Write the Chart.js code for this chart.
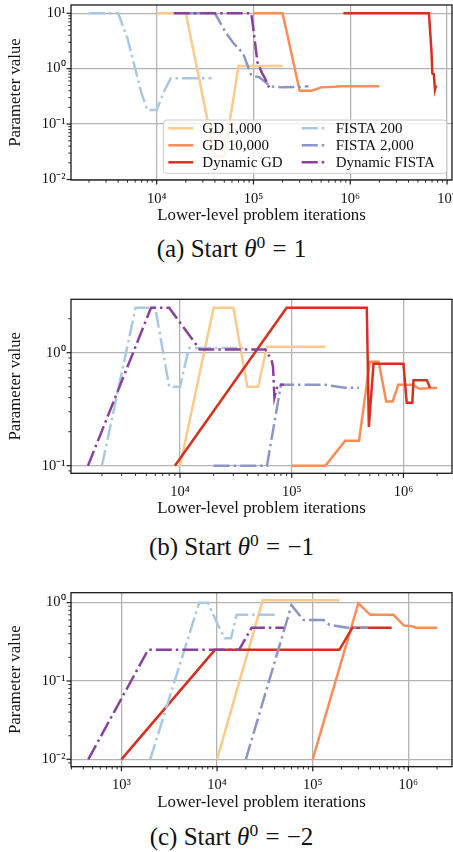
<!DOCTYPE html>
<html>
<head>
<meta charset="utf-8">
<script src="https://cdn.jsdelivr.net/npm/chart.js@4.4.1/dist/chart.umd.min.js"></script>
<style>
  body { margin: 0; background: #fff; width: 453px; height: 852px; position: relative; overflow: hidden; }
  canvas { position: absolute; left: 0; }
  .cap { position: absolute; left: 0; width: 463px; text-align: center; white-space: nowrap;
         font: 25px/25px 'Liberation Serif', serif; color: #111; }
  .cap sup { font-size: 70%; vertical-align: baseline; position: relative; top: -0.5em; }
  .cap .eq { margin: 0 0.04em; }
</style>
</head>
<body>
<canvas id="c1"></canvas>
<div class="cap" style="top:236px">(a) Start <i>θ</i><sup>0</sup> <span class="eq">=</span> 1</div>
<canvas id="c2"></canvas>
<div class="cap" style="top:534px">(b) Start <i>θ</i><sup>0</sup> <span class="eq">=</span> −1</div>
<canvas id="c3"></canvas>
<div class="cap" style="top:824px">(c) Start <i>θ</i><sup>0</sup> <span class="eq">=</span> −2</div>

<script>
// series names / colours, same order in every panel
const LABELS = ['GD 1,000', 'GD 10,000', 'Dynamic GD', 'FISTA 200', 'FISTA 2,000', 'Dynamic FISTA'];
const COLORS = ['#fdca8b', '#fc8d59', '#d7301f', '#a9c9e3', '#8c96c6', '#88419d'];
const DASHDOT = [false, false, false, true, true, true];

// ── (a) start theta = 1 ── [iterations, parameter]
const gd1000A = [[1e4, 10], [2e4, 10], [4e4, 0.026], [5e4, 0.026], [7e4, 1.12], [2e5, 1.12]];
const gd10000A = [[1e5, 10], [2e5, 10], [3e5, 0.4], [4e5, 0.4], [5e5, 0.46], [7e5, 0.47], [8e5, 0.48], [2e6, 0.48]];
const dynGdA = [[8.5e5, 10], [6.5e6, 10], [6.9e6, 2.1], [7.05e6, 0.82], [7.3e6, 0.8], [7.5e6, 0.42], [7.7e6, 0.5]];
const fista200A = [[2000, 10], [4000, 10], [5000, 3.5], [6000, 1.0], [7000, 0.35], [8000, 0.18], [1e4, 0.18], [1.2e4, 0.4], [1.4e4, 0.67], [3.7e4, 0.67]];
const fista2000A = [[2e4, 10], [4e4, 10], [5.2e4, 4.4], [6.2e4, 2.9], [7.8e4, 1.9], [9.5e4, 0.75], [1.15e5, 0.7], [1.5e5, 0.48], [2e5, 0.46], [3.7e5, 0.48]];
const dynFistaA = [[1.5e4, 10], [9.5e4, 10], [1e5, 5], [1.1e5, 1.3], [1.22e5, 0.85], [1.3e5, 0.7], [1.45e5, 0.46]];

// ── (b) start theta = -1 ──
const gd1000B = [[1e4, 0.1], [2e4, 2.5], [3e4, 2.5], [4e4, 0.5], [5e4, 0.5], [6e4, 1.13], [2e5, 1.13]];
const gd10000B = [[1e5, 0.1], [2e5, 0.1], [3e5, 0.166], [4e5, 0.166], [5e5, 0.83], [6e5, 0.83], [7e5, 0.37], [8e5, 0.37], [9e5, 0.52], [1.2e6, 0.52], [1.4e6, 0.48], [2e6, 0.49]];
const dynGdB = [[9000, 0.1], [9e4, 2.5], [4.7e5, 2.5], [4.9e5, 0.22], [5.4e5, 0.8], [1e6, 0.8], [1.07e6, 0.36], [1.2e6, 0.36], [1.23e6, 0.57], [1.62e6, 0.57], [1.73e6, 0.49]];
const fista200B = [[2000, 0.1], [4000, 2.5], [6000, 2.5], [8000, 0.5], [1e4, 0.5], [1.2e4, 1.1], [3.7e4, 1.1]];
const fista2000B = [[2e4, 0.1], [6e4, 0.1], [8e4, 0.52], [1e5, 0.52], [2e5, 0.52], [3e5, 0.49], [4e5, 0.49]];
const dynFistaB = [[1500, 0.1], [5500, 2.5], [8000, 2.5], [1.5e4, 1.07], [5.8e4, 1.07], [6.6e4, 0.86], [6.8e4, 0.75], [7e4, 0.4], [7.5e4, 0.52], [8.5e4, 0.52]];

// ── (c) start theta = -2 ──
const gd1000C = [[1e4, 0.01], [3e4, 1.07], [1.9e5, 1.07]];
const gd10000C = [[1e5, 0.01], [3e5, 0.98], [4e5, 0.7], [7e5, 0.7], [9e5, 0.51], [1.1e6, 0.5], [1.2e6, 0.48], [2e6, 0.48]];
const dynGdC = [[1000, 0.01], [9500, 0.25], [1.9e5, 0.25], [2.6e5, 0.48], [6.7e5, 0.48]];
const fista200C = [[2000, 0.01], [6500, 1.0], [8000, 1.0], [1e4, 0.55], [1.2e4, 0.35], [1.4e4, 0.35], [1.6e4, 0.7], [4e4, 0.7]];
const fista2000C = [[2e4, 0.01], [6e4, 0.93], [8e4, 0.6], [1.3e5, 0.6], [1.5e5, 0.52], [2.3e5, 0.48], [3.8e5, 0.48]];
const dynFistaC = [[450, 0.01], [1900, 0.25], [1.7e4, 0.25], [2.3e4, 0.48], [5e4, 0.48]];

const X_TITLE = 'Lower-level problem iterations';
const Y_TITLE = 'Parameter value';

const FONT = "'Liberation Serif', 'Times New Roman', serif";
const INK = '#111';
const GRID = '#b3b3b3';

Chart.defaults.font.family = FONT;
Chart.defaults.color = INK;

const SUP = { '-': '⁻', '0': '⁰', '1': '¹', '2': '²', '3': '³', '4': '⁴', '5': '⁵', '6': '⁶', '7': '⁷', '8': '⁸', '9': '⁹' };

function isPow10(v) {
  const e = Math.log10(v);
  return Math.abs(e - Math.round(e)) < 1e-6;
}

function decadeLabel(v) {
  if (!isPow10(v)) return '';
  return '10' + [...String(Math.round(Math.log10(v)))].map(c => SUP[c]).join('');
}

// matplotlib-like log ticks: 1..9 x 10^k
function logTicks(min, max) {
  const out = [];
  for (let e = Math.floor(Math.log10(min)); e <= Math.ceil(Math.log10(max)); e++) {
    for (let m = 1; m < 10; m++) {
      const v = Number(m + 'e' + e);
      if (v >= min * 0.9999 && v <= max * 1.0001) out.push({ value: v });
    }
  }
  return out;
}

// ── frame + outward major/minor tick marks ──
const frameTicks = {
  id: 'frameTicks',
  afterDraw(chart) {
    const { ctx, chartArea: a, scales: { x, y } } = chart;
    ctx.save();
    ctx.strokeStyle = '#1a1a1a';
    [x, y].forEach(s => s.ticks.forEach(t => {
      const major = isPow10(t.value);
      const len = major ? 4.5 : 2.7;
      ctx.lineWidth = major ? 1.2 : 0.9;
      const p = s.getPixelForValue(t.value);
      ctx.beginPath();
      if (s === x) { ctx.moveTo(p, a.bottom); ctx.lineTo(p, a.bottom + len); }
      else { ctx.moveTo(a.left, p); ctx.lineTo(a.left - len, p); }
      ctx.stroke();
    }));
    ctx.lineWidth = 1.3;
    ctx.strokeRect(a.left, a.top, a.right - a.left, a.bottom - a.top);
    ctx.restore();
  }
};

// ── 2-column legend in the lower right of the plot (panel a only) ──
const boxLegend = {
  id: 'boxLegend',
  afterDraw(chart, args, opts) {
    if (!opts.show) return;
    const { ctx, chartArea: a } = chart;
    const w = 283.4, h = 53.3;
    const left = a.right - 5.3 - w, top = a.bottom - 6.7 - h;
    ctx.save();
    ctx.beginPath();
    ctx.roundRect(left, top, w, h, 3);
    ctx.fillStyle = 'rgba(255,255,255,0.8)';
    ctx.fill();
    ctx.strokeStyle = '#cccccc';
    ctx.lineWidth = 1;
    ctx.stroke();
    ctx.font = '15px ' + FONT;
    ctx.textBaseline = 'middle';
    ctx.fillStyle = INK;
    chart.data.datasets.forEach((ds, i) => {
      const col = Math.floor(i / 3), row = i % 3;
      const hx = left + (col ? 138.4 : 5);
      const hy = top + 8.3 + row * 17;
      ctx.strokeStyle = ds.borderColor;
      ctx.lineWidth = ds.borderWidth;
      ctx.setLineDash(ds.borderDash || []);
      ctx.beginPath();
      ctx.moveTo(hx, hy);
      ctx.lineTo(hx + 25, hy);
      ctx.stroke();
      ctx.setLineDash([]);
      ctx.fillText(ds.label, hx + 34, hy + 0.5);
    });
    ctx.restore();
  }
};

function makePanel(p) {
  const canvas = document.getElementById(p.id);
  const H = Math.round(p.areaBottom - p.canvasTop + 48);
  canvas.width = 453;
  canvas.height = H;
  canvas.style.top = p.canvasTop + 'px';
  const xHeight = H - (p.areaBottom - p.canvasTop);
  const titlePad = H - 9.6 - (p.titleY - p.canvasTop);

  return new Chart(canvas.getContext('2d'), {
    type: 'line',
    data: {
      datasets: p.series.map((d, i) => ({
        label: LABELS[i],
        data: d,
        borderColor: COLORS[i],
        borderWidth: 2.5,
        borderDash: DASHDOT[i] ? [16, 4, 2.5, 4] : [],
        borderCapStyle: 'butt',
        pointRadius: 0,
        tension: 0,
        fill: false,
        order: LABELS.length - i,
      }))
    },
    options: {
      responsive: false,
      animation: false,
      events: [],
      layout: { padding: { top: p.areaTop - p.canvasTop, left: 0, right: 1, bottom: 0 } },
      plugins: {
        legend: { display: false },
        tooltip: { enabled: false },
        boxLegend: { show: !!p.legend },
      },
      scales: {
        x: {
          type: 'logarithmic',
          min: p.xMin, max: p.xMax,
          afterBuildTicks: s => { s.ticks = logTicks(s.min, s.max); },
          afterFit: s => { s.height = xHeight; s.paddingLeft = 0; s.paddingRight = 0; },
          border: { display: false },
          grid: { drawTicks: false, lineWidth: 1.3, color: c => isPow10(c.tick.value) ? GRID : 'rgba(0,0,0,0)' },
          ticks: { autoSkip: false, maxRotation: 0, padding: 10, color: INK, font: { size: 14.5 }, callback: v => decadeLabel(v) },
          title: { display: true, text: X_TITLE, color: INK, font: { size: 16.8 }, padding: { top: 0, bottom: titlePad } },
        },
        y: {
          type: 'logarithmic',
          min: p.yMin, max: p.yMax,
          afterBuildTicks: s => { s.ticks = logTicks(s.min, s.max); },
          afterFit: s => { s.width = 71; s.paddingTop = 0; s.paddingBottom = 0; },
          border: { display: false },
          grid: { drawTicks: false, lineWidth: 1.3, color: c => isPow10(c.tick.value) ? GRID : 'rgba(0,0,0,0)' },
          ticks: { autoSkip: false, padding: 5.5, color: INK, font: { size: 14.5 }, callback: v => decadeLabel(v) },
          title: { display: true, text: Y_TITLE, color: INK, font: { size: 16.8 }, padding: { top: 5.5, bottom: 0 } },
        }
      }
    },
    plugins: [frameTicks, boxLegend]
  });
}

makePanel({
  id: 'c1', canvasTop: 0, areaTop: 5, areaBottom: 180, titleY: 216, legend: true,
  xMin: 1303, xMax: 1.125e7, yMin: 0.0098, yMax: 14.1,
  series: [gd1000A, gd10000A, dynGdA, fista200A, fista2000A, dynFistaA],
});
makePanel({
  id: 'c2', canvasTop: 290, areaTop: 299.3, areaBottom: 473.3, titleY: 509,
  xMin: 1057, xMax: 2.72e6, yMin: 0.0857, yMax: 2.97,
  series: [gd1000B, gd10000B, dynGdB, fista200B, fista2000B, dynFistaB],
});
makePanel({
  id: 'c3', canvasTop: 585, areaTop: 592.7, areaBottom: 766.7, titleY: 803,
  xMin: 297, xMax: 2.86e6, yMin: 0.00805, yMax: 1.34,
  series: [gd1000C, gd10000C, dynGdC, fista200C, fista2000C, dynFistaC],
});
</script>
</body>
</html>
